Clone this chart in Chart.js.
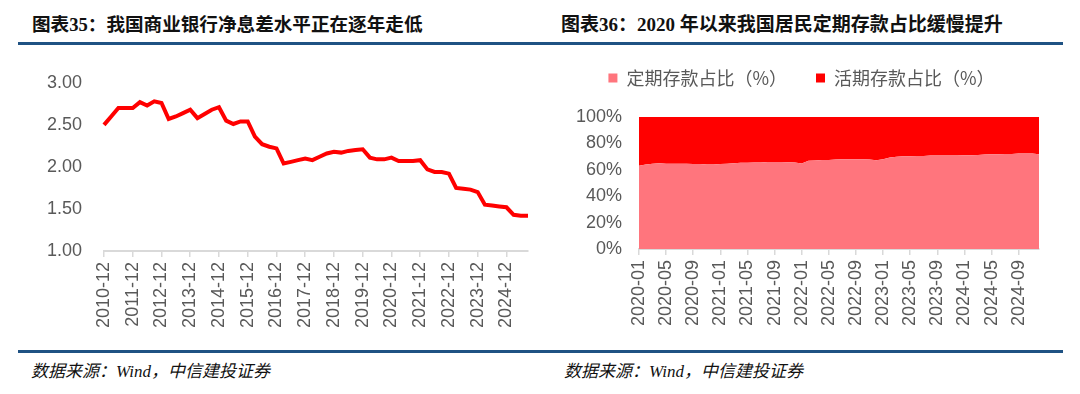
<!DOCTYPE html>
<html>
<head>
<meta charset="utf-8">
<script src="https://cdn.jsdelivr.net/npm/chart.js@4/dist/chart.umd.min.js"></script>
<style>
  body { margin: 0; width: 1080px; height: 394px; background: #fff; position: relative; overflow: hidden; }
  .title { position: absolute; top: 13px; font: bold 19px/24px "Liberation Serif", "Noto Sans CJK SC", sans-serif; color: #111; white-space: pre; }
  .rule { position: absolute; left: 18px; width: 1045px; height: 3px; background: #1F5283; }
  .source { position: absolute; top: 362px; font: italic 17px/20px "Liberation Serif", "Noto Sans CJK SC", serif; color: #111; white-space: pre; }
  canvas { position: absolute; }
</style>
</head>
<body>
<div class="title" style="left:32px;font-size:18.6px">图表35：我国商业银行净息差水平正在逐年走低</div>
<div class="title" style="left:561px">图表36：2020 年以来我国居民定期存款占比缓慢提升</div>
<div class="rule" style="top:42px"></div>
<div class="rule" style="top:350px"></div>
<div class="source" style="left:31px">数据来源：Wind，中信建投证券</div>
<div class="source" style="left:564px">数据来源：Wind，中信建投证券</div>

<canvas id="graficaMargen" width="540" height="300" style="left:0;top:50px"></canvas>
<canvas id="graficaDepositos" width="540" height="310" style="left:540px;top:40px"></canvas>

<script>
// 净息差 (%), 季度
const trimestres = [
  "2010-12",
  "2011-03", "2011-06", "2011-09", "2011-12",
  "2012-03", "2012-06", "2012-09", "2012-12",
  "2013-03", "2013-06", "2013-09", "2013-12",
  "2014-03", "2014-06", "2014-09", "2014-12",
  "2015-03", "2015-06", "2015-09", "2015-12",
  "2016-03", "2016-06", "2016-09", "2016-12",
  "2017-03", "2017-06", "2017-09", "2017-12",
  "2018-03", "2018-06", "2018-09", "2018-12",
  "2019-03", "2019-06", "2019-09", "2019-12",
  "2020-03", "2020-06", "2020-09", "2020-12",
  "2021-03", "2021-06", "2021-09", "2021-12",
  "2022-03", "2022-06", "2022-09", "2022-12",
  "2023-03", "2023-06", "2023-09", "2023-12",
  "2024-03", "2024-06", "2024-09", "2024-12",
  "2025-03", "2025-06", "2025-09",
];
const margenNeto = [
  2.50,
  2.60, 2.70, 2.70, 2.70,
  2.77, 2.73, 2.78, 2.76,
  2.57, 2.60, 2.64, 2.68,
  2.58, 2.63, 2.68, 2.71,
  2.55, 2.51, 2.54, 2.54,
  2.36, 2.27, 2.24, 2.22,
  2.04, 2.06, 2.08, 2.10,
  2.08, 2.12, 2.16, 2.18,
  2.17, 2.19, 2.20, 2.21,
  2.11, 2.09, 2.09, 2.11,
  2.07, 2.07, 2.07, 2.08,
  1.97, 1.94, 1.94, 1.92,
  1.75, 1.74, 1.73, 1.70,
  1.55, 1.54, 1.53, 1.52,
  1.43, 1.42, 1.42,
];
const ticksMargen = [1.0, 1.5, 2.0, 2.5, 3.0];

// 定期 / 活期存款占比 (%), 月度
const meses = [
  "2020-01", "2020-02", "2020-03", "2020-04", "2020-05", "2020-06", "2020-07", "2020-08", "2020-09", "2020-10", "2020-11", "2020-12",
  "2021-01", "2021-02", "2021-03", "2021-04", "2021-05", "2021-06", "2021-07", "2021-08", "2021-09", "2021-10", "2021-11", "2021-12",
  "2022-01", "2022-02", "2022-03", "2022-04", "2022-05", "2022-06", "2022-07", "2022-08", "2022-09", "2022-10", "2022-11", "2022-12",
  "2023-01", "2023-02", "2023-03", "2023-04", "2023-05", "2023-06", "2023-07", "2023-08", "2023-09", "2023-10", "2023-11", "2023-12",
  "2024-01", "2024-02", "2024-03", "2024-04", "2024-05", "2024-06", "2024-07", "2024-08", "2024-09", "2024-10", "2024-11", "2024-12",
];
const plazoFijo = [
  63.0, 64.0, 64.6, 65.0, 64.5, 64.5, 64.5, 64.5, 64.3, 64.3, 64.0, 64.0,
  64.3, 64.5, 65.0, 65.3, 65.3, 65.5, 65.5, 66.0, 66.0, 66.0, 65.8, 65.5,
  64.8, 66.8, 67.0, 67.5, 67.5, 67.8, 68.0, 68.0, 68.0, 68.0, 67.8, 67.3,
  68.0, 69.3, 69.8, 70.3, 70.3, 70.5, 70.5, 70.8, 70.8, 70.8, 70.8, 70.8,
  71.0, 71.0, 71.3, 71.5, 71.8, 71.8, 72.0, 72.0, 72.3, 72.3, 72.3, 71.8,
];
const aLaVista = [
  37.0, 36.0, 35.4, 35.0, 35.5, 35.5, 35.5, 35.5, 35.7, 35.7, 36.0, 36.0,
  35.7, 35.5, 35.0, 34.7, 34.7, 34.5, 34.5, 34.0, 34.0, 34.0, 34.2, 34.5,
  35.2, 33.2, 33.0, 32.5, 32.5, 32.2, 32.0, 32.0, 32.0, 32.0, 32.2, 32.7,
  32.0, 30.7, 30.2, 29.7, 29.7, 29.5, 29.5, 29.2, 29.2, 29.2, 29.2, 29.2,
  29.0, 29.0, 28.7, 28.5, 28.2, 28.2, 28.0, 28.0, 27.7, 27.7, 27.7, 28.2,
];
const ticksPorcentaje = [0, 20, 40, 60, 80, 100];

const GRIS = "#595959";
const EJE = "#D9D9D9";
const fuenteTicks = { family: "'Liberation Sans', Arial, sans-serif", size: 18 };

// 每 4 个类别显示一个标签
function cadaCuatro(labels) {
  return function (value, index) {
    return index % 4 === 0 ? labels[index] : null;
  };
}

// 📈 净息差走势
function cargarMargen() {
  const ctx = document.getElementById("graficaMargen").getContext("2d");
  new Chart(ctx, {
    type: "line",
    data: {
      labels: trimestres,
      datasets: [
        {
          label: "净息差",
          data: margenNeto,
          borderColor: "#FF0000",
          borderWidth: 4,
          pointRadius: 0,
          tension: 0,
          fill: false,
        },
      ],
    },
    options: {
      responsive: false,
      animation: false,
      layout: { padding: { top: 23, right: 12, left: 0, bottom: 0 } },
      plugins: { legend: { display: false }, tooltip: { enabled: false } },
      scales: {
        x: {
          grid: { drawOnChartArea: false, drawTicks: true, tickLength: 6, color: EJE, lineWidth: 1.5 },
          border: { color: EJE, width: 2 },
          ticks: {
            autoSkip: false,
            maxRotation: 90,
            minRotation: 90,
            padding: 5,
            color: GRIS,
            font: fuenteTicks,
            callback: cadaCuatro(trimestres),
          },
          afterFit(s) { s.height = 99; },
        },
        y: {
          min: ticksMargen[0],
          max: ticksMargen[ticksMargen.length - 1],
          afterBuildTicks(s) { s.ticks = ticksMargen.map(v => ({ value: v })); },
          grid: { display: false, drawTicks: false },
          border: { display: false },
          ticks: { padding: 22, color: GRIS, font: fuenteTicks, callback: v => v.toFixed(2) },
          afterFit(s) { s.width = 104; },
        },
      },
    },
  });
}

// 📊 定期/活期存款占比
function cargarDepositos() {
  const ctx = document.getElementById("graficaDepositos").getContext("2d");
  new Chart(ctx, {
    type: "line",
    data: {
      labels: meses,
      datasets: [
        {
          label: "定期存款占比（%）",
          data: plazoFijo,
          xAxisID: "x",
          backgroundColor: "#FF757D",
          borderColor: "#FF757D",
          borderWidth: 0,
          pointRadius: 0,
          fill: "origin",
        },
        {
          label: "活期存款占比（%）",
          data: aLaVista,
          xAxisID: "x",
          backgroundColor: "#FF0000",
          borderColor: "#FF0000",
          borderWidth: 0,
          pointRadius: 0,
          fill: "-1",
        },
      ],
    },
    options: {
      responsive: false,
      animation: false,
      layout: { padding: { top: 0, right: 41, left: 24, bottom: 0 } },
      plugins: {
        tooltip: { enabled: false },
        legend: {
          position: "top",
          labels: {
            boxWidth: 9,
            boxHeight: 9,
            padding: 29,
            color: GRIS,
            font: { family: "'Noto Sans CJK SC', sans-serif", size: 18 },
          },
        },
      },
      scales: {
        x: {
          grid: { drawOnChartArea: false, drawTicks: true, tickLength: 6, color: EJE, lineWidth: 1.5 },
          border: { color: EJE, width: 2 },
          ticks: {
            autoSkip: false,
            maxRotation: 90,
            minRotation: 90,
            padding: 5,
            color: GRIS,
            font: fuenteTicks,
            callback: cadaCuatro(meses),
          },
          afterFit(s) { s.height = 101; },
        },
        // 图例与绘图区之间的留白
        hueco: {
          type: "category",
          position: "top",
          grid: { display: false },
          border: { display: false },
          ticks: { display: false },
          afterFit(s) { s.height = 20; },
        },
        y: {
          stacked: true,
          min: 0,
          max: 100,
          afterBuildTicks(s) { s.ticks = ticksPorcentaje.map(v => ({ value: v })); },
          grid: { display: false, drawTicks: false },
          border: { display: false },
          ticks: { padding: 17, color: GRIS, font: fuenteTicks, callback: v => v + "%" },
          afterFit(s) { s.width = 75; },
        },
      },
    },
  });
}

// 🚀 初始化
cargarMargen();
cargarDepositos();
</script>
</body>
</html>
